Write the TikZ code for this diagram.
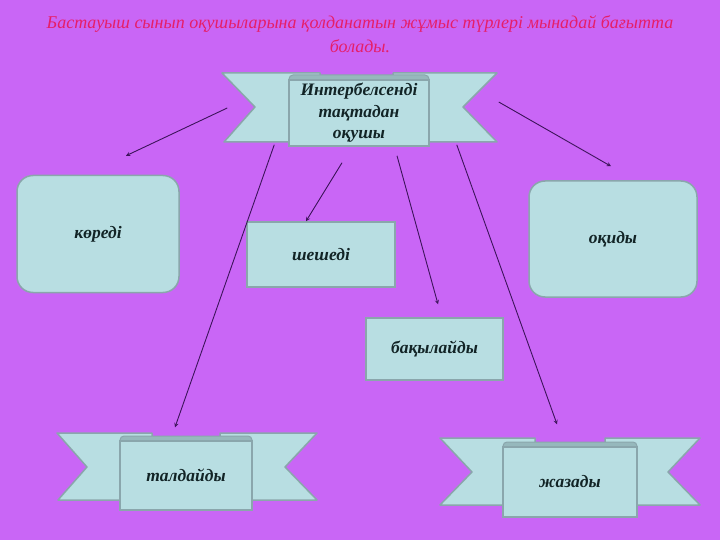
\documentclass[tikz,border=0pt]{standalone}
\usepackage{fontspec}
\setmainfont{Liberation Serif}

\definecolor{slidebg}{RGB}{201,102,246}
\definecolor{boxfill}{RGB}{184,222,226}
\definecolor{boxline}{RGB}{138,166,172}
\definecolor{curlfill}{RGB}{150,184,188}
\definecolor{titlered}{RGB}{230,30,104}
\definecolor{arrowline}{RGB}{60,20,90}
\definecolor{labeltext}{RGB}{18,36,38}

\begin{document}
\begin{tikzpicture}[x=1pt, y=-1pt, align=center]
		% Node styles
		\tikzstyle{panel} = [rectangle, draw=boxline, line width=1.5pt, fill=boxfill, text=labeltext, font=\fontsize{17.5}{21.5}\selectfont\bfseries\itshape, inner sep=0pt]
		\tikzstyle{roundbox} = [panel, rounded corners=16pt]
		\tikzstyle{wing} = [draw=boxline, line width=1.5pt, fill=boxfill, line join=round]
		\tikzstyle{curl} = [draw=boxline, line width=1pt, fill=curlfill, rounded corners=4pt]
		\tikzstyle{arrow} = [line width=0.9pt, draw=arrowline, ->, >=stealth]

		% Background
		\fill[slidebg] (0,0) rectangle (720,540);

		% Title
		\node[text=titlered, font=\fontsize{18}{24}\selectfont\itshape] (title) at (360,34) {Бастауыш сынып оқушыларына қолданатын жұмыс түрлері мынадай бағытта\\болады.};

		% Ribbon wings
		\draw[wing] (222,73) -- (320,73) -- (320,142) -- (224,142) -- (255,107) -- cycle;
		\draw[wing] (497,73) -- (393,73) -- (393,142) -- (497,142) -- (463,107) -- cycle;
		\draw[wing] (57,433) -- (152,433) -- (152,500) -- (58,500) -- (87,467) -- cycle;
		\draw[wing] (317,433) -- (220,433) -- (220,500) -- (317,500) -- (285,467) -- cycle;
		\draw[wing] (440,438) -- (535,438) -- (535,505) -- (440,505) -- (472,472) -- cycle;
		\draw[wing] (700,438) -- (605,438) -- (605,505) -- (700,505) -- (668,472) -- cycle;
		\draw[curl] (289,75) rectangle (429,85);
		\draw[curl] (120,436) rectangle (252,446);
		\draw[curl] (503,442) rectangle (637,452);

		% Nodes
		\node[panel, minimum width=140pt, minimum height=66pt] (board) at (359,113) {Интербелсенді\\тақтадан\\оқушы};
		\node[roundbox, minimum width=162pt, minimum height=117pt] (koredi) at (98,234) {көреді};
		\node[roundbox, minimum width=168pt, minimum height=116pt] (oqidy) at (613,239) {оқиды};
		\node[panel, minimum width=148pt, minimum height=65pt] (sheshedi) at (321,254.5) {шешеді};
		\node[panel, minimum width=137pt, minimum height=62pt] (baqylaidy) at (434.5,349) {бақылайды};
		\node[panel, minimum width=132pt, minimum height=69pt] (taldaidy) at (186,475.5) {талдайды};
		\node[panel, minimum width=134pt, minimum height=70pt] (zhazady) at (570,482) {жазады};

		% Arrows
		\draw[arrow] ([xshift=-61pt, yshift=5pt]board.west) -- ([xshift=28pt, yshift=19pt]koredi.north);
		\draw[arrow] ([xshift=69pt, yshift=11pt]board.east) -- ([xshift=-2pt, yshift=14pt]oqidy.north);
		\draw[arrow] ([xshift=-17pt, yshift=-16pt]board.south) -- ([xshift=-15pt]sheshedi.north);
		\draw[arrow] ([xshift=38pt, yshift=-9pt]board.south) -- ([xshift=3.5pt, yshift=13pt]baqylaidy.north);
		\draw[arrow] ([xshift=-14pt, yshift=2pt]board.south west) -- ([xshift=-11pt, yshift=13pt]taldaidy.north);
		\draw[arrow] ([xshift=27pt, yshift=2pt]board.south east) -- ([xshift=-13pt, yshift=22pt]zhazady.north);
\end{tikzpicture}
\end{document}
